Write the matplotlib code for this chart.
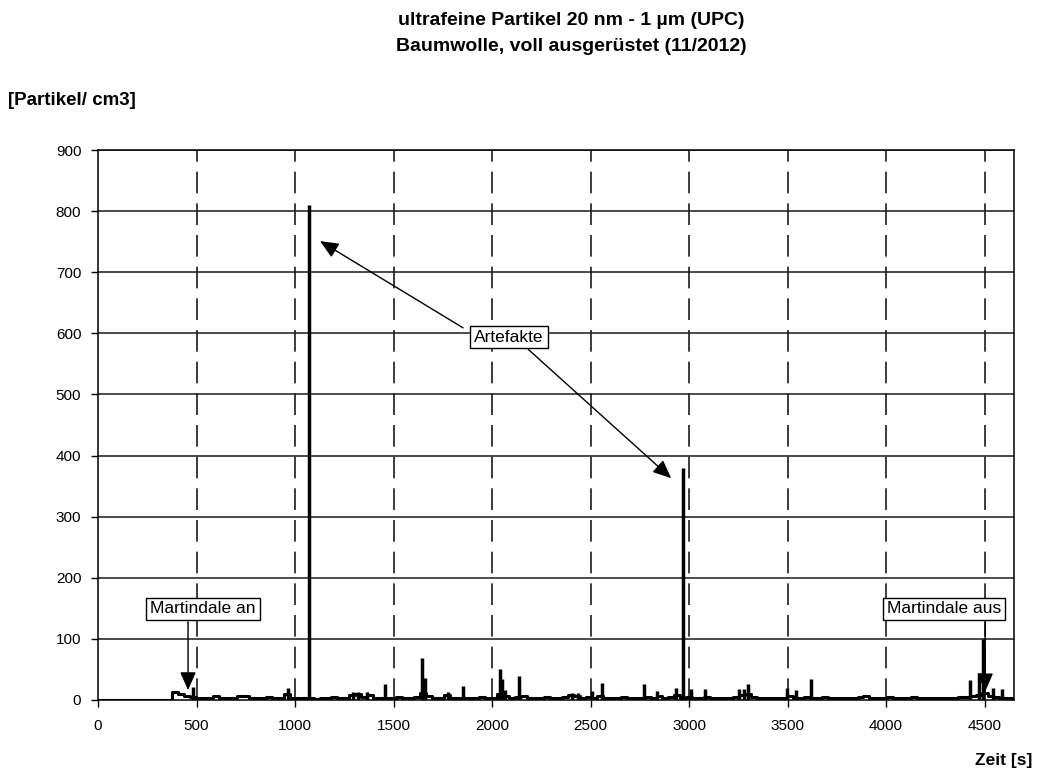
import numpy as np
import matplotlib.pyplot as plt

# baseline particle count, one value every 30 s from 0 to 4650 s
t_base = np.arange(0, 4651, 30)
v_base = [
    0, 0, 0, 0, 0, 0, 0, 0, 0, 0,
    0, 0, 0, 13, 9, 6, 5, 3, 4, 3,
    6, 3, 4, 3, 7, 6, 3, 3, 4, 5,
    3, 4, 10, 4, 3, 4, 3, 2, 4, 3,
    5, 4, 3, 8, 9, 5, 8, 4, 4, 4,
    3, 5, 4, 3, 5, 12, 6, 4, 3, 8,
    4, 3, 4, 3, 4, 5, 3, 4, 10, 6,
    3, 5, 6, 3, 4, 3, 5, 4, 3, 5,
    8, 7, 3, 5, 4, 7, 3, 4, 3, 5,
    3, 4, 3, 5, 4, 6, 4, 5, 8, 3,
    5, 3, 4, 5, 3, 4, 3, 4, 5, 8,
    9, 5, 3, 4, 3, 4, 3, 6, 4, 3,
    5, 3, 4, 5, 3, 4, 3, 4, 3, 5,
    6, 4, 3, 4, 5, 3, 4, 3, 5, 4,
    3, 4, 3, 4, 3, 4, 5, 5, 6, 8,
    12, 7, 5, 4, 3, 3,
]

# short peaks [s] and their heights [Partikel/cm3]
t_peak = [482, 965, 1071, 1294, 1320, 1364, 1457, 1645, 1658, 1777, 1851,
          2041, 2051, 2066, 2139, 2404, 2437, 2506, 2557, 2773, 2836, 2934,
          2971, 3009, 3081, 3255, 3279, 3301, 3496, 3543, 3619, 4426, 4472,
          4493, 4545, 4587]
v_peak = [22, 19, 810, 13, 13, 13, 26, 69, 36, 13, 23,
          50, 34, 16, 40, 12, 12, 15, 28, 26, 14, 19,
          380, 18, 18, 18, 18, 26, 20, 16, 35, 33, 44,
          100, 19, 18]

x_ticks = [0, 500, 1000, 1500, 2000, 2500, 3000, 3500, 4000, 4500]
y_ticks = [0, 100, 200, 300, 400, 500, 600, 700, 800, 900]

plt.rcParams['font.family'] = ['Liberation Sans', 'DejaVu Sans']

fig = plt.figure(figsize=(10.37, 7.71), dpi=100)
ax = fig.add_axes([0.0945, 0.0921, 0.978 - 0.0945, 0.8054 - 0.0921])

ax.step(t_base, v_base, where='mid', color='black', lw=2.2, zorder=3)
ax.vlines(t_peak, 0, v_peak, color='black', lw=2.5, zorder=3)

ax.set_xlim(0, 4650)
ax.set_ylim(0, 900)
ax.set_xticks(x_ticks)
ax.set_yticks(y_ticks)
ax.tick_params(direction='out', length=5, width=1, labelsize=11)
ax.tick_params(axis='x', pad=9)
ax.tick_params(axis='y', pad=7)
for y in y_ticks[1:]:
    ax.axhline(y, color='#1a1a1a', lw=1.1, zorder=1)
for x in x_ticks[1:]:
    ax.axvline(x, color='#1a1a1a', lw=1.2, dashes=(13, 6), zorder=1)
for s in ax.spines.values():
    s.set_linewidth(1.1)

fig.text(0.551, 0.974, 'ultrafeine Partikel 20 nm - 1 µm (UPC)',
         ha='center', va='center', fontsize=14, fontweight='bold')
fig.text(0.551, 0.940, 'Baumwolle, voll ausgerüstet (11/2012)',
         ha='center', va='center', fontsize=14, fontweight='bold')
fig.text(0.008, 0.870, '[Partikel/ cm3]', ha='left', va='center', fontsize=13.5, fontweight='bold')
fig.text(0.996, 0.014, 'Zeit [s]', ha='right', va='center', fontsize=12.5, fontweight='bold')

box = dict(boxstyle='square,pad=0.22', fc='white', ec='black', lw=1)
head = dict(arrowstyle='-|>,head_length=0.8,head_width=0.35', color='black', lw=1,
            shrinkA=0, shrinkB=0, mutation_scale=14)

ax.annotate('', xy=(457, 16), xytext=(457, 128), arrowprops=head, zorder=4)
ax.text(533, 149, 'Martindale an', ha='center', va='center', fontsize=12.5, bbox=box, zorder=5)

ax.annotate('', xy=(4503, 14), xytext=(4503, 128), arrowprops=head, zorder=4)
ax.text(4294, 149, 'Martindale aus', ha='center', va='center', fontsize=12.5, bbox=box, zorder=5)

ax.annotate('', xy=(1127, 751), xytext=(1853, 609), arrowprops=head, zorder=4)
ax.annotate('', xy=(2909, 363), xytext=(2183, 574), arrowprops=head, zorder=4)
ax.text(2086, 594, 'Artefakte', ha='center', va='center', fontsize=12.5, bbox=box, zorder=5)

fig.savefig('out.png', dpi=100)
